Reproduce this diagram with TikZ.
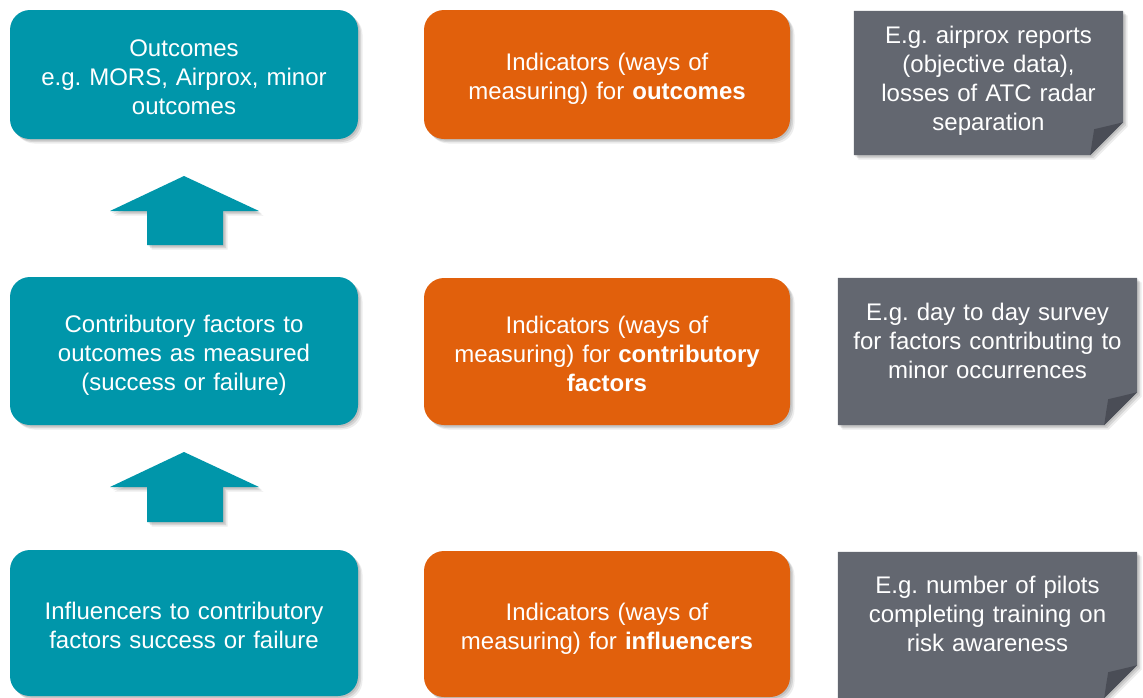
\documentclass[tikz,border=0pt]{standalone}
\usepackage{fontspec}
\setmainfont{Liberation Sans}
\usetikzlibrary{calc}

\definecolor{tealbox}{HTML}{0096AA}
\definecolor{orangebox}{HTML}{E1600C}
\definecolor{notegrey}{HTML}{636770}
\definecolor{notefold}{HTML}{4A4D56}

\tikzset{
  softshadow/.style={
    preaction={fill=black, opacity=0.07, transform canvas={xshift=4.5pt, yshift=-4.5pt}},
    preaction={fill=black, opacity=0.10, transform canvas={xshift=3pt, yshift=-3pt}},
    preaction={fill=black, opacity=0.10, transform canvas={xshift=1.5pt, yshift=-1.5pt}}},
  % fixed line struts so every text block is centred by its line count only
  boxtext/.style={text=white, align=center, font=\fontsize{24}{29}\selectfont\frenchspacing,
    execute at begin node={\rule{0pt}{27.2pt}},
    execute at end node={\rule[-5.5pt]{0pt}{0pt}}},
  roundbox/.style={boxtext, rounded corners=20pt, inner sep=0pt, softshadow},
  stagebox/.style={roundbox, fill=tealbox, minimum width=348pt, text width=330pt},
  measurebox/.style={roundbox, fill=orangebox, minimum width=366pt, text width=352pt},
  noteframe/.style={inner sep=0pt},
  notetext/.style={boxtext, inner sep=0pt, text width=292pt},
  blockarrow/.style={fill=tealbox, softshadow}
}

% grey note with a turned-up bottom right corner, drawn around a named frame node
\newcommand{\foldnote}[1]{%
  \fill[notegrey, softshadow] (#1.north west) -- (#1.north east)
    -- ([yshift=33pt]#1.south east) -- ([xshift=-33pt]#1.south east)
    -- (#1.south west) -- cycle;
  \fill[notefold] ([yshift=33pt]#1.south east)
    .. controls ([xshift=-12pt,yshift=30pt]#1.south east) .. ([xshift=-29pt,yshift=26pt]#1.south east)
    .. controls ([xshift=-31pt,yshift=14pt]#1.south east) .. ([xshift=-33pt]#1.south east) -- cycle;
}

\begin{document}
\begin{tikzpicture}[x=1pt, y=-1pt]
\useasboundingbox (0,0) rectangle (1143,697);

% left column: what is measured
\node[stagebox, minimum height=129pt] (outc) at (184,74.5)
  {Outcomes\\e.g. MORS, Airprox, minor\\outcomes};
\node[stagebox, minimum height=148pt] (contr) at (184,351)
  {Contributory factors to\\outcomes as measured\\(success or failure)};
\node[stagebox, minimum height=146pt] (infl) at (184,623)
  {Influencers to contributory\\factors success or failure};

% middle column: indicators
\node[measurebox, minimum height=129pt] (indout) at (607,74.5)
  {Indicators (ways of\\measuring) for \textbf{outcomes}};
\node[measurebox, minimum height=147pt] (indcon) at (607,351.5)
  {Indicators (ways of\\measuring) for \textbf{contributory}\\\textbf{factors}};
\node[measurebox, minimum height=146pt] (indinf) at (607,624)
  {Indicators (ways of\\measuring) for \textbf{influencers}};

% right column: example notes
\node[noteframe, minimum width=269pt, minimum height=144pt] (ex1) at (988.5,83) {};
\node[noteframe, minimum width=299pt, minimum height=147pt] (ex2) at (987.5,351.5) {};
\node[noteframe, minimum width=299pt, minimum height=146pt] (ex3) at (987.5,625) {};
\foldnote{ex1}
\foldnote{ex2}
\foldnote{ex3}
\node[notetext] (ex1t) at ([yshift=6.5pt]ex1.center)
  {E.g. airprox reports\\(objective data),\\losses of ATC radar\\separation};
\node[notetext] (ex2t) at ([yshift=12.5pt]ex2.center)
  {E.g. day to day survey\\for factors contributing to\\minor occurrences};
\node[notetext] (ex3t) at ([yshift=13pt]ex3.center)
  {E.g. number of pilots\\completing training on\\risk awareness};

% upward block arrows between the stages
\fill[blockarrow] (184,176) -- (259,211) -- (223,211) -- (223,245)
  -- (147,245) -- (147,211) -- (110,211) -- cycle;
\fill[blockarrow] (184,452) -- (259,487) -- (223,487) -- (223,522)
  -- (147,522) -- (147,487) -- (110,487) -- cycle;
\end{tikzpicture}
\end{document}
